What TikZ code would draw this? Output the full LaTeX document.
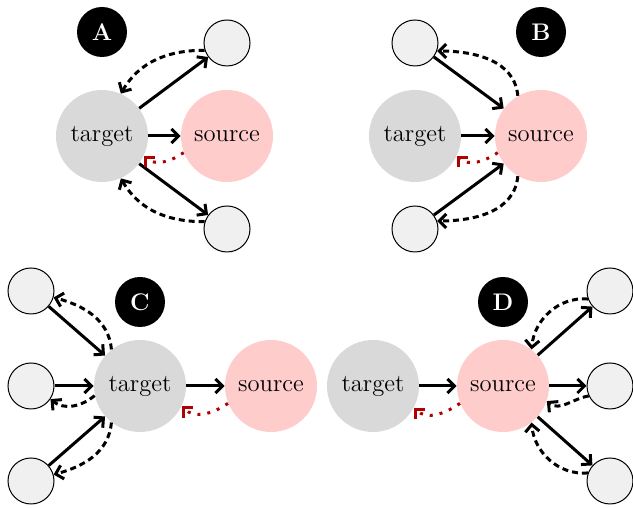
\documentclass[tikz,border=0pt]{standalone}
\usetikzlibrary{arrows.meta}
\definecolor{tgtgray}{HTML}{D9D9D9}
\definecolor{srcpink}{HTML}{FFCCCC}
\definecolor{leafgray}{HTML}{F0F0F0}
\definecolor{linkred}{HTML}{B00000}
\tikzset{
  barbtip/.style={-{Straight Barb[length=3.5pt,width=7pt]}},
  tgt/.style={circle, fill=tgtgray, minimum size=46pt, inner sep=0pt, font=\fontsize{12.3}{14}\selectfont},
  src/.style={tgt, fill=srcpink},
  leaf/.style={circle, draw, line width=0.5pt, fill=leafgray, minimum size=23pt, inner sep=0pt},
  tag/.style={circle, fill=black, text=white, minimum size=25pt, inner sep=0pt, font=\fontsize{12}{14}\selectfont\bfseries},
  flow/.style={line width=1.5pt, barbtip},
  back/.style={flow, dash pattern=on 3pt off 2pt},
  dep/.style={line width=1.5pt, draw=linkred, dash pattern=on 1.5pt off 3.5pt, barbtip},
}
\begin{document}
\begin{tikzpicture}[x=0.5pt, y=0.5pt]
  \fill[white] (0,0) rectangle (633,508);
  \path[use as bounding box] (0,0) rectangle (633,508);

  % panel A: target feeds two leaves
  \node[tag] (aT) at (102,476) {A};
  \node[tgt] (aX) at (102,372) {target};
  \node[src] (aS) at (227,372) {source};
  \node[leaf] (aU) at (227,465) {};
  \node[leaf] (aD) at (227,279) {};
  \draw[flow] (aX) -- (aU);
  \draw[flow] (aX) -- (aS);
  \draw[flow] (aX) -- (aD);
  \draw[back] (aU.198) to[out=180, in=60] (aX.66);
  \draw[back] (aD.162) to[out=180, in=-60] (aX.-66);
  \draw[dep] (aS.201) to[out=215, in=-45] (aX.-25);

  % panel B: leaves feed the source
  \node[tag] (bT) at (541,476) {B};
  \node[tgt] (bX) at (415,372) {target};
  \node[src] (bS) at (541,372) {source};
  \node[leaf] (bU) at (415,465) {};
  \node[leaf] (bD) at (415,279) {};
  \draw[flow] (bU) -- (bS);
  \draw[flow] (bX) -- (bS);
  \draw[flow] (bD) -- (bS);
  \draw[back] (bS.120) to[out=95, in=0] (bU.-20);
  \draw[back] (bS.-120) to[out=-95, in=0] (bD.20);
  \draw[dep] (bS.201) to[out=215, in=-45] (bX.-25);

  % panel C: three leaves into the target
  \node[tag] (cT) at (140,206) {C};
  \node[tgt] (cX) at (140,122) {target};
  \node[src] (cS) at (271,122) {source};
  \node[leaf] (cU) at (31,217) {};
  \node[leaf] (cM) at (31,122) {};
  \node[leaf] (cD) at (31,27) {};
  \draw[flow] (cU) -- (cX);
  \draw[flow] (cM) -- (cX);
  \draw[flow] (cD) -- (cX);
  \draw[flow] (cX) -- (cS);
  \draw[back] (cX.128) to[out=95, in=-15] (cU.-16);
  \draw[back] (cX.-128) to[out=-95, in=15] (cD.16);
  \draw[back] (cX.192) to[out=220, in=-40] (cM.-34);
  \draw[dep] (cS.202) to[out=215, in=-45] (cX.-26);

  % panel D: source fans out to three leaves
  \node[tag] (dT) at (503,206) {D};
  \node[tgt] (dX) at (373,122) {target};
  \node[src] (dS) at (503,122) {source};
  \node[leaf] (dU) at (610,217) {};
  \node[leaf] (dM) at (610,122) {};
  \node[leaf] (dD) at (610,27) {};
  \draw[flow] (dX) -- (dS);
  \draw[flow] (dS) -- (dU);
  \draw[flow] (dS) -- (dM);
  \draw[flow] (dS) -- (dD);
  \draw[back] (dU.200) to[out=175, in=85] (dS.52);
  \draw[back] (dD.160) to[out=185, in=-85] (dS.-52);
  \draw[back] (dM.205) to[out=190, in=-40] (dS.-19);
  \draw[dep] (dS.202) to[out=215, in=-45] (dX.-28);
\end{tikzpicture}
\end{document}
